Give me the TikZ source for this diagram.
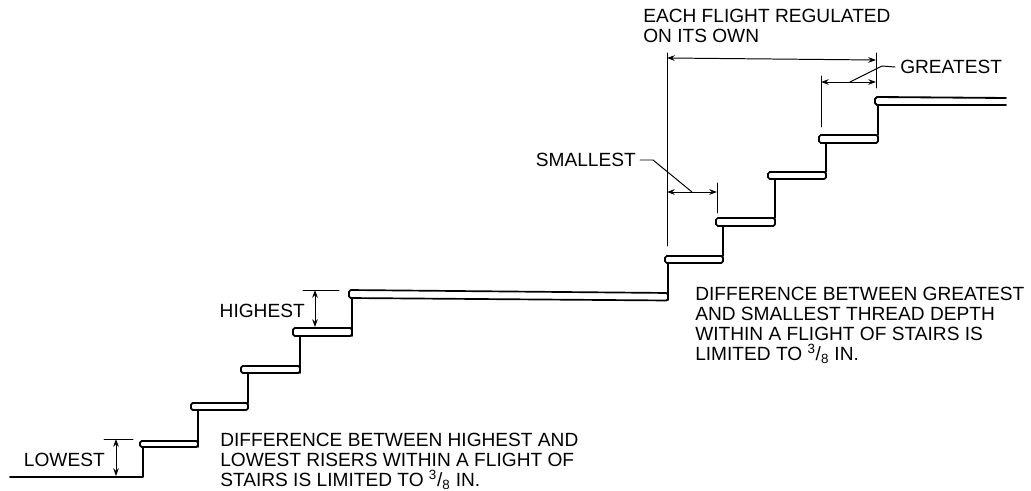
\documentclass[tikz,border=0pt]{standalone}
\usepackage{fontspec}
\setmainfont{Liberation Sans}
\usetikzlibrary{arrows.meta}
\tikzset{
	stair/.style={line width=1.3pt,line join=round},
	tread/.style={line width=1.2pt,rounded corners=1.2pt},
	dimline/.style={line width=0.7pt,{Stealth[length=5.5pt,width=4pt]}-{Stealth[length=5.5pt,width=4pt]}},
	thin line/.style={line width=0.7pt},
	note/.style={inner sep=0pt,align=left,font=\fontsize{13.6pt}{14.3pt}\selectfont},
	tag/.style={inner sep=0pt,font=\fontsize{13.6pt}{14.3pt}\selectfont}
}
\begin{document}
\begin{tikzpicture}[x=0.025cm,y=-0.025cm,line join=round,line cap=round]
	\useasboundingbox (0,0) rectangle (1031,491);
	% lower flight
	\draw[stair] (10,477)--(143,477)--(143,447);
	\draw[tread] (198,441)--(140,441)--(140,447)--(198,447)--cycle;
	\draw[stair] (198,447)--(198,410);
	\draw[tread] (248,403)--(191,403)--(191,410)--(248,410)--cycle;
	\draw[stair] (248,403)--(248,373);
	\draw[tread] (300,366)--(241,366)--(241,373)--(300,373)--cycle;
	\draw[stair] (300,373)--(300,336);
	\draw[tread] (352,328)--(293,328)--(293,336)--(352,336)--cycle;
	\draw[stair] (352,336)--(352,298);
	% landing
	\draw[tread] (668,293)--(349,290)--(349,298)--(668,300.5)--cycle;
	\draw[stair] (668,300)--(668,263);
	% upper flight
	\draw[tread] (723,256)--(665,256)--(665,263)--(723,263)--cycle;
	\draw[stair] (723,256)--(723,226);
	\draw[tread] (775,218)--(716,218)--(716,226)--(775,226)--cycle;
	\draw[stair] (775,218)--(775,179);
	\draw[tread] (826,172)--(768,172)--(768,179)--(826,179)--cycle;
	\draw[stair] (826,172)--(826,143);
	\draw[tread] (878,135)--(819,135)--(819,143)--(878,143)--cycle;
	\draw[stair] (878,135)--(878,105);
	\draw[stair] (1006,98)--(877,97)--(875,99)--(875,103)--(877,105)--(1006,105);
	% risers
	\coordinate (lowtop) at (116,439);
	\coordinate (lowbot) at (116,476);
	\coordinate (hightop) at (315,290);
	\coordinate (highbot) at (315,327);
	\draw[thin line] (104,439)--(133,439);
	\draw[thin line] (303,290)--(339,290);
	\draw[dimline] (lowtop)--(lowbot);
	\draw[dimline] (hightop)--(highbot);
	\node[tag,anchor=east] (lowest) at (105,460) {LOWEST};
	\node[tag,anchor=east] (highest) at (305,311) {HIGHEST};
	% thread depths
	\coordinate (flightL) at (667,58);
	\coordinate (flightR) at (876,60);
	\coordinate (greatL) at (821,82);
	\coordinate (greatR) at (876,82);
	\coordinate (smallL) at (667,192);
	\coordinate (smallR) at (717,192);
	\draw[thin line] (667,53)--(667,246);
	\draw[thin line] (876,53)--(876,88);
	\draw[thin line] (821,76)--(821,127);
	\draw[thin line] (717,183)--(717,213);
	\draw[dimline] (flightL)--(flightR);
	\draw[dimline] (greatL)--(greatR);
	\draw[dimline] (smallL)--(smallR);
	\node[tag,anchor=west] (greatest) at (900,67) {GREATEST};
	\node[tag,anchor=east] (smallest) at (636,160) {SMALLEST};
	\draw[thin line] (greatest.west)++(-5,0)--(882,66)--(850,82);
	\draw[thin line] (smallest.east)++(4,0)--(653,160)--(692,192);
	% notes
	\node[note,anchor=north west] (flightnote) at (643,9) {EACH FLIGHT REGULATED\\ON ITS OWN};
	\node[note,anchor=north west] (threadnote) at (695,287) {DIFFERENCE BETWEEN GREATEST\\AND SMALLEST THREAD DEPTH\\WITHIN A FLIGHT OF STAIRS IS\\LIMITED TO \textsuperscript{3}/\textsubscript{8} IN.};
	\node[note,anchor=north west] (risernote) at (220,432.5) {DIFFERENCE BETWEEN HIGHEST AND\\LOWEST RISERS WITHIN A FLIGHT OF\\STAIRS IS LIMITED TO \textsuperscript{3}/\textsubscript{8} IN.};
\end{tikzpicture}
\end{document}
